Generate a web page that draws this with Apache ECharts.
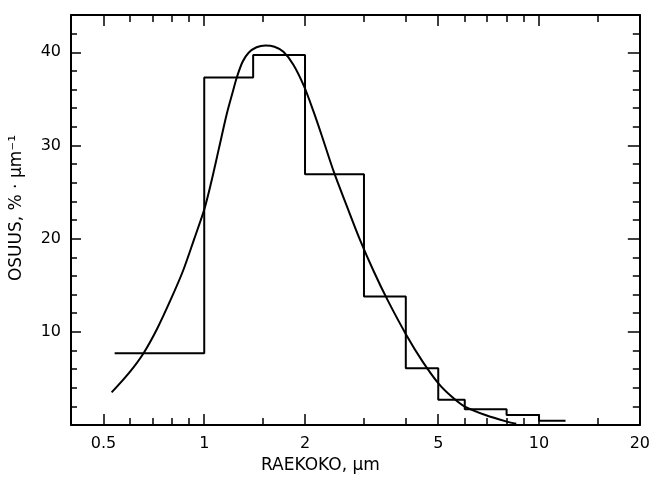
<!DOCTYPE html>
<html>
<head>
<meta charset="utf-8">
<script src="https://cdn.jsdelivr.net/npm/echarts@6/dist/echarts.min.js"></script>
<style>
html,body{margin:0;padding:0;background:#fff;}
#chart{width:653px;height:479px;}
</style>
</head>
<body>
<div id="chart"></div>
<script>
// Histogram: bin edges and heights (% per µm)
const binEdges = [0.54, 1, 1.4, 2, 3, 4, 5, 6, 8, 10, 12];
const binValues = [7.7, 37.3, 39.7, 26.9, 13.8, 6.1, 2.7, 1.7, 1.07, 0.45];

// Fitted curve
const curveX = [0.529, 0.598, 0.658, 0.724, 0.797, 0.865, 0.932, 1.0, 1.047, 1.106, 1.168, 1.217, 1.253, 1.302, 1.357, 1.433, 1.524, 1.621, 1.724, 1.846, 1.983, 2.116, 2.25, 2.443, 2.67, 2.917, 3.21, 3.533, 4.022, 4.486, 5.005, 5.47, 5.984, 6.947, 8.023, 8.549];
const curveY = [3.5, 5.65, 7.68, 10.36, 13.58, 16.58, 19.9, 23.12, 25.91, 29.66, 33.41, 35.77, 37.37, 38.98, 39.95, 40.54, 40.73, 40.59, 40.05, 38.66, 36.41, 33.73, 30.94, 27.08, 23.44, 19.9, 16.47, 13.37, 9.61, 6.83, 4.47, 3.08, 2.0, 1.04, 0.36, 0.13];

// Axis ticks
const xMajorTicks = [0.5, 1, 2, 5, 10, 20];
const xMinorTicks = [0.6, 0.7, 0.8, 0.9, 1.5, 3, 4, 6, 7, 8, 9, 15];
const yMajorTicks = [10, 20, 30, 40];
const yMinorTicks = [2, 4, 6, 8, 12, 14, 16, 18, 22, 24, 26, 28, 32, 34, 36, 38, 42];

const xName = 'RAEKOKO, µm';
const yName = 'OSUUS, % · µm⁻¹';

const stepData = binValues.map((v, i) => [binEdges[i], v]);
stepData.push([binEdges[binEdges.length - 1], binValues[binValues.length - 1]]);
const curveData = curveX.map((x, i) => [x, curveY[i]]);

const FONT = 'DejaVu Sans';
const lineStyle = { color: '#000', width: 2 };
const labelStyle = { color: '#000', fontFamily: FONT, fontSize: 16 };
const nameStyle = { color: '#000', fontFamily: FONT, fontSize: 17 };

function xAx(pos, ticks, len, showLine, showLabel, extra) {
  return Object.assign({
    type: 'log', logBase: 10, min: 0.4, max: 20, position: pos,
    axisLine: { show: showLine, onZero: false, lineStyle: lineStyle },
    axisTick: { show: true, inside: true, length: len, customValues: ticks, lineStyle: { color: '#000', width: 1.5 } },
    axisLabel: showLabel ? Object.assign({ customValues: ticks, margin: 11, formatter: v => String(+v.toPrecision(3)) }, labelStyle) : { show: false },
    splitLine: { show: false }, minorTick: { show: false }
  }, extra || {});
}
function yAx(pos, ticks, len, showLine, showLabel, extra) {
  return Object.assign({
    type: 'value', min: 0, max: 44, position: pos,
    axisLine: { show: showLine, onZero: false, lineStyle: lineStyle },
    axisTick: { show: true, inside: true, length: len, customValues: ticks, lineStyle: { color: '#000', width: 1.5 } },
    axisLabel: showLabel ? Object.assign({ customValues: ticks, margin: 10 }, labelStyle) : { show: false },
    splitLine: { show: false }
  }, extra || {});
}

const chart = echarts.init(document.getElementById('chart'), null, { renderer: 'canvas' });
chart.setOption({
  backgroundColor: '#fff',
  animation: false,
  grid: { left: 68, right: 11, top: 15, bottom: 52, containLabel: false },
  xAxis: [
    xAx('bottom', xMajorTicks, 11, true, true, {
      name: xName, nameLocation: 'middle', nameGap: 32,
      nameTextStyle: Object.assign({ padding: [0, 70, 0, 0] }, nameStyle)
    }),
    xAx('bottom', xMinorTicks, 7, false, false),
    xAx('top', xMajorTicks, 11, true, false),
    xAx('top', xMinorTicks, 7, false, false)
  ],
  yAxis: [
    yAx('left', yMajorTicks, 10, true, true, {
      name: yName, nameLocation: 'middle', nameGap: 46, nameRotate: 90,
      nameTextStyle: Object.assign({ padding: [0, 0, 0, 24] }, nameStyle)
    }),
    yAx('left', yMinorTicks, 6, false, false),
    yAx('right', yMajorTicks, 12, true, false),
    yAx('right', yMinorTicks, 7, false, false)
  ],
  series: [
    {
      type: 'line', name: 'histogram', xAxisIndex: 0, yAxisIndex: 0,
      data: stepData, step: 'end', showSymbol: false, symbol: 'none',
      lineStyle: { color: '#000', width: 2 }
    },
    {
      type: 'line', name: 'curve', xAxisIndex: 0, yAxisIndex: 0,
      data: curveData, smooth: 0.3, showSymbol: false, symbol: 'none',
      lineStyle: { color: '#000', width: 2 }
    }
  ]
});
</script>
</body>
</html>
